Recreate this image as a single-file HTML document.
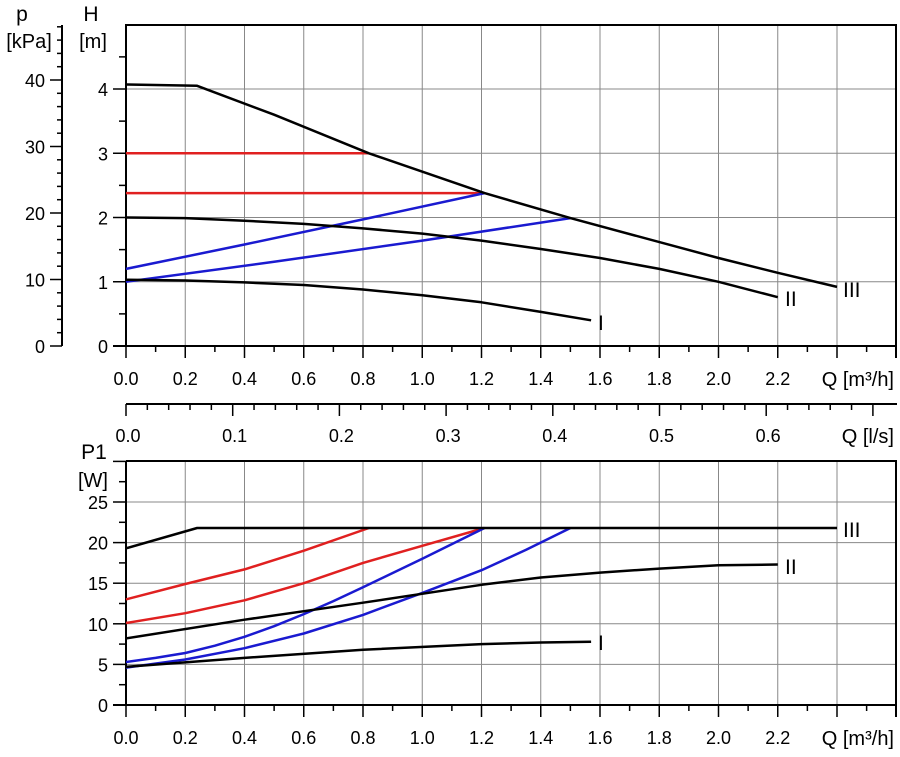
<!DOCTYPE html>
<html><head><meta charset="utf-8"><style>
html,body{margin:0;padding:0;background:#fff}
svg{display:block;font-family:"Liberation Sans",sans-serif}
</style></head><body>
<svg id="s" width="900" height="757" xmlns="http://www.w3.org/2000/svg"></svg>
<script>
const s=document.getElementById('s');let h='';
const X=q=>126+296.25*q, YT=v=>346-64.25*v, YB=w=>705-8.12*w;
function L(x1,y1,x2,y2,c,w){h+=`<line x1="${x1}" y1="${y1}" x2="${x2}" y2="${y2}" stroke="${c}" stroke-width="${w}"/>`;}
function T(x,y,t,a,sz){h+=`<text x="${x}" y="${y}" font-size="${sz||18}" text-anchor="${a||'middle'}" fill="#000">${t}</text>`;}
function P(pts,Y,c){let d='M'+X(pts[0][0]).toFixed(1)+','+Y(pts[0][1]).toFixed(1);
 for(let i=1;i<pts.length;i++){let p0=pts[i-1],p1=pts[i];let mx=(X(p0[0])+X(p1[0]))/2;
  if(i==1)d+='L';else d+='L';d+=X(p1[0]).toFixed(1)+','+Y(p1[1]).toFixed(1);}
 h+=`<path d="${d}" fill="none" stroke="${c}" stroke-width="2.5" stroke-linejoin="round"/>`;}
for(let i=1;i<=12;i++){L(X(i*0.2),25,X(i*0.2),346,'#888',1);L(X(i*0.2),461,X(i*0.2),705,'#888',1);}
for(let i=1;i<=4;i++)L(126,YT(i),896,YT(i),'#888',1);
for(let i=1;i<=5;i++)L(126,YB(i*5),896,YB(i*5),'#888',1);
L(126,25,897,25,'#000',2);L(896,25,896,358,'#000',2);L(126,24,126,346,'#000',2);L(113,346,897,346,'#000',2);
L(126,461,897,461,'#000',2);L(896,461,896,717,'#000',2);L(126,461,126,705,'#000',2);L(113,705,897,705,'#000',2);
for(let i=0;i<=9;i++){let v=i*0.5;L(i%2?119:113,YT(v),126,YT(v),'#000',1.5);}
for(let i=0;i<=4;i++)T(108,YT(i)+7,i,'end');
for(let i=0;i<=26;i++){let q=i*0.1;let len=i%2?6:12;L(X(q),346,X(q),346+len,'#000',1.5);L(X(q),705,X(q),705+len,'#000',1.5);}
for(let i=0;i<=11;i++){let t=(i*0.2).toFixed(1);T(X(i*0.2),385,t);T(X(i*0.2),744,t);}
T(894,386,'Q [m³/h]','end',20);T(894,745,'Q [m³/h]','end',20);
L(62,25,62,346,'#000',2);
for(let k=0;k<=48;k+=2){let y=346-6.65*k;if(y<25)break;L(k%10==0?50:57,y,62,y,'#000',1.5);}
for(let k=0;k<=40;k+=10)T(45,346-6.65*k+7,k,'end');
T(22,21,'p','middle',21);T(29,48,'[kPa]','middle',20);T(91,21,'H','middle',21);T(93,48,'[m]','middle',20);
L(126,404,897,404,'#000',2);
for(let i=0;i<=35;i++){let x=126+i*0.02*1067;if(x>897)break;L(x,404,x,i%5?410:416,'#000',1.5);}
for(let i=0;i<=6;i++)T(126+106.7*i+2,442,(i*0.1).toFixed(1));
T(894,443,'Q [l/s]','end',20);
for(let i=0;i<=12;i++){let w=i*2.5;L(i%2?119:113,YB(w),126,YB(w),'#000',1.5);}
for(let i=0;i<=5;i++)T(108,YB(i*5)+7,i*5,'end');
T(94,459,'P1','middle',21);T(93,487,'[W]','middle',20);
const R='#e02020',B='#1a1ad0',K='#000';
P([[0,3],[0.82,3]],YT,R);P([[0,2.38],[1.21,2.38]],YT,R);
P([[0,1.2],[0.4,1.58],[0.8,1.97],[1.21,2.38]],YT,B);
P([[0,1.0],[0.5,1.31],[1.0,1.64],[1.5,1.99]],YT,B);
P([[0,4.07],[0.24,4.05],[0.5,3.6],[0.82,3.0],[1.21,2.38],[1.5,1.99],[2.0,1.37],[2.2,1.14],[2.4,0.92]],YT,K);
P([[0,2.0],[0.2,1.99],[0.4,1.95],[0.6,1.9],[0.8,1.83],[1.0,1.75],[1.2,1.64],[1.4,1.51],[1.6,1.37],[1.8,1.2],[2.0,1.0],[2.2,0.76]],YT,K);
P([[0,1.03],[0.2,1.02],[0.4,0.99],[0.6,0.95],[0.8,0.88],[1.0,0.79],[1.2,0.68],[1.4,0.53],[1.57,0.4]],YT,K);
T(843,297,'III','start',21);T(785,306,'II','start',21);T(598,330,'I','start',21);
P([[0,13],[0.2,14.9],[0.4,16.7],[0.6,19],[0.82,21.8]],YB,R);
P([[0,10.1],[0.2,11.3],[0.4,12.9],[0.6,15],[0.8,17.5],[1.0,19.6],[1.21,21.8]],YB,R);
P([[0,5.3],[0.1,5.8],[0.2,6.4],[0.3,7.3],[0.4,8.4],[0.5,9.7],[0.6,11.2],[0.7,12.8],[0.8,14.5],[1.0,18],[1.21,21.8]],YB,B);
P([[0,4.6],[0.2,5.6],[0.4,7],[0.6,8.8],[0.8,11.1],[1.0,13.8],[1.2,16.6],[1.35,19.1],[1.5,21.8]],YB,B);
P([[0,19.3],[0.24,21.8],[2.4,21.8]],YB,K);
P([[0,8.2],[0.4,10.5],[0.8,12.6],[1.2,14.8],[1.4,15.7],[1.6,16.3],[1.8,16.8],[2.0,17.2],[2.2,17.3]],YB,K);
P([[0,4.7],[0.4,5.8],[0.8,6.8],[1.2,7.5],[1.4,7.7],[1.57,7.8]],YB,K);
T(843,537,'III','start',21);T(785,574,'II','start',21);T(598,650,'I','start',21);
s.innerHTML=h;
</script>
</body></html>
